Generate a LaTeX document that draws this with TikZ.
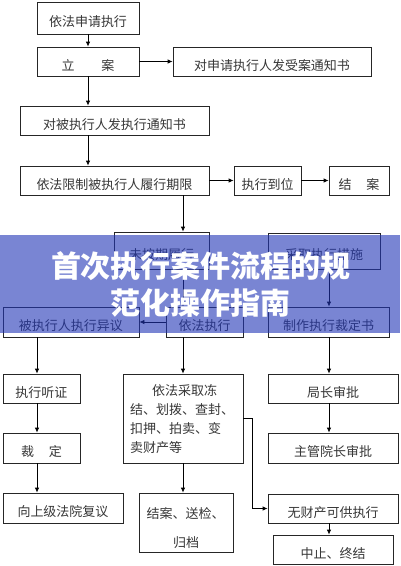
\documentclass[tikz,border=0pt]{standalone}
\usepackage{fontspec}
\setmainfont{Noto Sans CJK SC}
\usetikzlibrary{arrows.meta}
\newskip\cjkgap
\cjkgap=1.5pt
\XeTeXinterchartokenstate=1
\XeTeXinterchartoks 1 1 = {\hskip\cjkgap}
\XeTeXinterchartoks 1 3 = {\hskip\cjkgap}
\XeTeXinterchartoks 3 1 = {\hskip\cjkgap}
\newcommand\jline[2]{{\cjkgap=0pt plus 1fil\makebox[#1][s]{#2}}}
\definecolor{bannerc}{RGB}{33,53,183}
\definecolor{inkc}{RGB}{55,55,55}
\newcommand\BX[6]{\node[bx,minimum width={#4-#2},minimum height={#5-#3}] (#1) at ({(#2+#4)/2},{(#3+#5)/2}) {#6};}
\begin{document}
\begin{tikzpicture}[x=1pt,y=-1pt,
  bx/.style={draw=black!85, line width=0.8pt, inner sep=0pt, text height=17pt, text depth=0pt,
    font=\fontsize{13}{15}\selectfont, text=inkc},
  ln/.style={inner sep=0pt, font=\fontsize{13}{15}\selectfont, text=inkc, anchor=base west},
  arr/.style={draw=black, line width=0.8pt, -{Latex[length=5pt,width=4.5pt]}},
]
\useasboundingbox (0,0) rectangle (400,566);
\fill[white] (0,0) rectangle (400,566);

\BX{a}{37}{2}{139}{34}{依法申请执行}
\BX{b}{37}{47}{139}{76}{立\hspace{27pt}案}
\BX{c}{173}{47}{371}{76}{对申请执行人发受案通知书}
\BX{d}{20}{106}{209}{135}{对被执行人发执行通知书}
\BX{e}{20}{166}{209}{195}{依法限制被执行人履行期限}
\BX{f}{234}{166}{301}{195}{执行到位}
\BX{g}{329}{166}{389}{195}{结\hspace{15pt}案}
\BX{h}{114}{232}{209}{269}{未按期履行}
\BX{i}{268}{233}{380}{269}{采取执行措施}
\BX{j}{3}{307}{139}{337}{被执行人执行异议}
\BX{k}{166}{307}{243}{337}{依法执行}
\BX{l}{268}{307}{389}{337}{制作执行裁定书}
\BX{m}{3}{374}{80}{403}{执行听证}
\BX{n}{3}{433}{80}{463}{裁\hspace{15pt}定}
\BX{o}{3}{493}{123}{523}{向上级法院复议}
\BX{p}{123}{374}{243}{463}{}
\BX{q}{139}{493}{233}{552}{}
\BX{r}{268}{374}{398}{403}{局长审批}
\BX{s}{268}{433}{398}{463}{主管院长审批}
\BX{t}{268}{494}{398}{523}{无财产可供执行}
\BX{u}{273}{535}{393}{564}{中止、终结}

\node[ln] (p1) at (152,395) {\jline{84pt}{依法采取冻}};
\node[ln] (p2) at (130,414) {\jline{113pt}{结、划拨、查封、}};
\node[ln] (p3) at (130,433) {\jline{106pt}{扣押、拍卖、变}};
\node[ln] (p4) at (130,452) {卖财产等};
\node[ln] (q1) at (146.5,518) {结案、送检、};
\node[ln] (q2) at (173,547) {归档};

\coordinate (cx) at (183,0);
\coordinate (rx) at (329,0);
\coordinate (jx) at (37,0);
\coordinate (pmid) at (252,418);

\draw[arr] (a.south) -- (b.north);
\draw[arr] (b.east) -- (c.west);
\draw[arr] (b.south) -- (b.south |- d.north);
\draw[arr] (b.south |- d.south) -- (b.south |- e.north);
\draw[arr] (e.east) -- (f.west);
\draw[arr] (f.east) -- (g.west);
\draw[arr] (e.south -| cx) -- (h.north -| cx);
\draw[arr] (h.south -| cx) -- (k.north -| cx);
\draw[arr] (i.south -| rx) -- (l.north -| rx);
\draw[arr] (k.west) -- (j.east);
\draw[arr] (j.south -| jx) -- (m.north -| jx);
\draw[arr] (m.south -| jx) -- (n.north -| jx);
\draw[arr] (n.south -| jx) -- (o.north -| jx);
\draw[arr] (k.south -| cx) -- (p.north -| cx);
\draw[arr] (p.south -| cx) -- (q.north -| cx);
\draw[arr] (l.south -| rx) -- (r.north -| rx);
\draw[arr] (r.south -| rx) -- (s.north -| rx);
\draw[arr] (t.south -| rx) -- (u.north -| rx);
\draw[arr] (p.east) -- (p.east -| pmid) -- (pmid |- t.west) -- (t.west);

\fill[bannerc, opacity=0.6] (0,235) rectangle (400,333);
\node[inner sep=0pt, text=white, align=center,
  font={\cjkgap=0pt\bfseries\fontsize{30}{36.5}\selectfont}] (title) at (201,284.5)
  {首次执行案件流程的规\\范化操作指南};
\end{tikzpicture}
\end{document}
